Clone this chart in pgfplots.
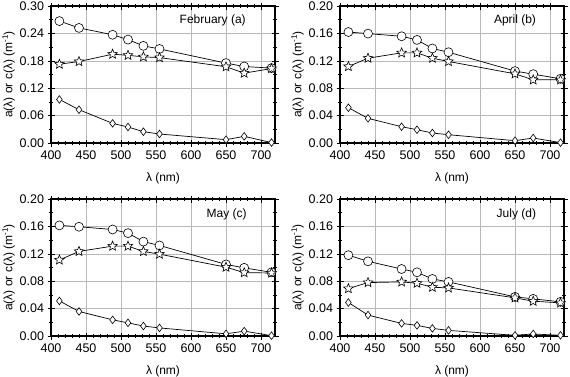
\documentclass[border=0pt]{standalone}
\usepackage{fontspec}
\setmainfont{Liberation Sans}
\usepackage{pgfplots}
\pgfplotsset{compat=1.18}
\usepackage{pgfplotstable}

\pgfdeclareplotmark{ostar}{%
  \pgfpathmoveto{\pgfpointpolar{90}{\pgfplotmarksize}}%
  \pgfpathlineto{\pgfpointpolar{126}{0.45\pgfplotmarksize}}%
  \pgfpathlineto{\pgfpointpolar{162}{\pgfplotmarksize}}%
  \pgfpathlineto{\pgfpointpolar{198}{0.45\pgfplotmarksize}}%
  \pgfpathlineto{\pgfpointpolar{234}{\pgfplotmarksize}}%
  \pgfpathlineto{\pgfpointpolar{270}{0.45\pgfplotmarksize}}%
  \pgfpathlineto{\pgfpointpolar{306}{\pgfplotmarksize}}%
  \pgfpathlineto{\pgfpointpolar{342}{0.45\pgfplotmarksize}}%
  \pgfpathlineto{\pgfpointpolar{18}{\pgfplotmarksize}}%
  \pgfpathlineto{\pgfpointpolar{54}{0.45\pgfplotmarksize}}%
  \pgfpathclose
  \pgfusepathqfillstroke
}

\pgfplotstableread{
wl c b a
412 0.267 0.1726 0.0954
440 0.252 0.1784 0.0729
488 0.237 0.1945 0.0430
510 0.2265 0.1920 0.0350
532 0.2127 0.1887 0.0248
555 0.2060 0.1870 0.0197
650 0.1750 0.1670 0.0073
676 0.1675 0.1530 0.0146
715 0.1640 0.1630 0.0010
}\feb
\pgfplotstableread{
wl c b a
412 0.1620 0.1117 0.0515
440 0.1597 0.1238 0.0360
488 0.1558 0.1316 0.0238
510 0.1505 0.1316 0.0194
532 0.1380 0.1238 0.0146
555 0.1325 0.1190 0.0121
650 0.1050 0.1010 0.0034
676 0.1005 0.0922 0.0073
715 0.0937 0.0922 0.0005
}\apr
\pgfplotstableread{
wl c b a
412 0.1615 0.1110 0.0512
440 0.1595 0.1235 0.0358
488 0.1555 0.1312 0.0236
510 0.1502 0.1312 0.0192
532 0.1378 0.1235 0.0145
555 0.1322 0.1195 0.0118
650 0.1045 0.1005 0.0032
676 0.0995 0.0925 0.0071
715 0.0930 0.0920 0.0005
}\may
\pgfplotstableread{
wl c b a
412 0.1180 0.0692 0.0489
440 0.1090 0.0780 0.0305
488 0.0978 0.0790 0.0184
510 0.0930 0.0770 0.0155
532 0.0833 0.0712 0.0111
555 0.0790 0.0702 0.0082
650 0.0571 0.0557 0.0010
676 0.0542 0.0508 0.0030
715 0.0499 0.0484 0.0010
}\jul

\pgfplotsset{
  panel/.style={
    scale only axis, width=224pt, height=137pt, anchor=south west,
    xmin=400, xmax=720, ymin=0,
    xtick={400,450,...,700}, minor x tick num=4, minor y tick num=1,
    grid=major, major grid style={gray!55, line width=0.6pt},
    axis line style={line width=1.1pt},
    tick align=center, major tick length=7pt, minor tick length=4pt,
    tick style={black, line width=0.5pt},
    tick label style={font=\fontsize{12.5}{14}\selectfont},
    label style={font=\fontsize{12}{14}\selectfont},
    xticklabel style={yshift=-1pt},
    /pgf/number format/assume math mode=true,
    yticklabel style={/pgf/number format/.cd, fixed, fixed zerofill, precision=2},
    scaled y ticks=false,
    xlabel={λ (nm)},
    ylabel={a(λ) or c(λ) (m\textsuperscript{-1})},
    xlabel style={yshift=-6pt},
    ylabel style={yshift=-2pt},
    clip=false,
  },
  ser/.style={black, line width=0.7pt},
}

\newcommand{\series}[1]{%
  \addplot[ser, mark=*, mark size=4.5pt, mark options={fill=white, line width=0.6pt}] table[x=wl, y=c] {#1};
  \addplot[ser, mark=ostar, mark size=5pt, mark options={fill=white, line width=0.6pt}] table[x=wl, y=b] {#1};
  \addplot[ser, mark=diamond*, mark size=3.8pt, mark options={fill=white, line width=0.6pt}] table[x=wl, y=a] {#1};
}

\begin{document}
\begin{tikzpicture}[x=1pt,y=1pt]
\path[use as bounding box] (0,0) rectangle (570,376);

\begin{axis}[panel, at={(51pt,233pt)}, ymax=0.30, ytick={0,0.06,...,0.31}]
\series{\feb}
\node[font=\fontsize{12}{14}\selectfont] at (axis cs:631,0.269) {February (a)};
\end{axis}

\begin{axis}[panel, at={(340pt,233pt)}, ymax=0.20, ytick={0,0.04,...,0.21}]
\series{\apr}
\node[font=\fontsize{12}{14}\selectfont] at (axis cs:650,0.1796) {April (b)};
\end{axis}

\begin{axis}[panel, at={(51pt,40pt)}, ymax=0.20, ytick={0,0.04,...,0.21}]
\series{\may}
\node[font=\fontsize{12}{14}\selectfont] at (axis cs:651,0.178) {May (c)};
\end{axis}

\begin{axis}[panel, at={(340pt,40pt)}, ymax=0.20, ytick={0,0.04,...,0.21}]
\series{\jul}
\node[font=\fontsize{12}{14}\selectfont] at (axis cs:652,0.178) {July (d)};
\end{axis}
\end{tikzpicture}
\end{document}
